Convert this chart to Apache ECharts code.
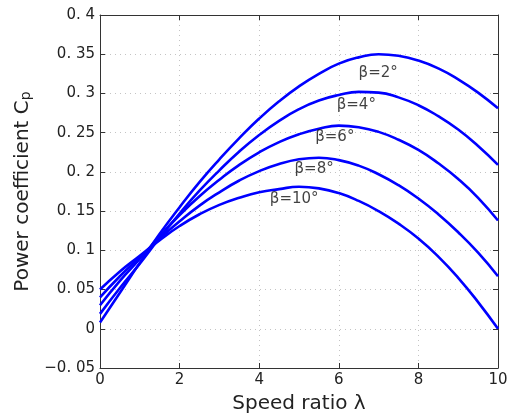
<!DOCTYPE html>
<html>
<head>
<meta charset="utf-8">
<script src="https://cdn.jsdelivr.net/npm/echarts@6/dist/echarts.min.js"></script>
<style>
html,body{margin:0;padding:0;background:#fff;}
#chart{width:515px;height:414px;}
</style>
</head>
<body>
<div id="chart"></div>
<script>
// Speed ratio samples
const lambda = [0,0.5,1,1.5,2,2.5,3,3.5,4,4.5,5,5.5,6,6.5,7,7.5,8,8.5,9,9.5,10];
// Power coefficient per pitch angle
const cpBeta2  = [0.008,0.046,0.084,0.121,0.155,0.187,0.216,0.243,0.268,0.290,0.309,0.325,0.338,0.346,0.350,0.348,0.342,0.332,0.318,0.301,0.281];
const cpBeta4  = [0.019,0.052,0.083,0.116,0.147,0.176,0.202,0.226,0.247,0.265,0.280,0.291,0.298,0.302,0.301,0.295,0.285,0.271,0.254,0.233,0.209];
const cpBeta6  = [0.030,0.061,0.089,0.118,0.145,0.169,0.190,0.209,0.225,0.238,0.248,0.255,0.259,0.257,0.251,0.241,0.228,0.211,0.191,0.167,0.138];
const cpBeta8  = [0.040,0.067,0.091,0.115,0.137,0.157,0.174,0.189,0.201,0.210,0.216,0.218,0.215,0.208,0.197,0.183,0.166,0.146,0.123,0.097,0.067];
const cpBeta10 = [0.050,0.073,0.093,0.113,0.131,0.146,0.158,0.167,0.174,0.178,0.181,0.179,0.173,0.163,0.150,0.134,0.115,0.092,0.065,0.034,0.000];
const seriesNames = ['β=2°','β=4°','β=6°','β=8°','β=10°'];
const seriesValues = [cpBeta2, cpBeta4, cpBeta6, cpBeta8, cpBeta10];
// Curve label anchor positions (data units)
const labelLambda = [6.99, 6.44, 5.90, 5.38, 4.88];
const labelCp = [0.326, 0.285, 0.2445, 0.204, 0.1655];
// Axis tick settings
const xTicks = [0,2,4,6,8,10];
const yTicks = [-0.05,0,0.05,0.1,0.15,0.2,0.25,0.3,0.35,0.4];

const FONT = 'DejaVu Sans';
const TXT = '#222222';

function fmtY(v){
  let s = (Math.round(v*100)/100).toString();
  if (s === '-0') s = '0';
  s = s.replace('.', '. ').replace('-', '\u2212');
  return s;
}

const chart = echarts.init(document.getElementById('chart'), null, {renderer:'canvas'});

const lineSeries = seriesValues.map((vals, k) => ({
  name: seriesNames[k],
  type: 'line',
  xAxisIndex: 0, yAxisIndex: 0,
  data: lambda.map((x, i) => [x, vals[i]]),
  smooth: 0.5,
  showSymbol: false,
  symbol: 'none',
  lineStyle: {color: '#0000ff', width: 2.6},
  z: 3
}));

const labelSeries = {
  type: 'scatter',
  xAxisIndex: 0, yAxisIndex: 0,
  symbolSize: 0,
  data: seriesNames.map((n, k) => ({name: n, value: [labelLambda[k], labelCp[k]]})),
  label: {
    show: true,
    position: 'inside',
    formatter: p => p.name,
    fontFamily: FONT,
    fontSize: 15,
    color: '#111'
  },
  z: 4
};

const axisLineStyle = {show: true, onZero: false, lineStyle: {color: '#333', width: 1}};
const tickStyle = {show: true, inside: true, length: 5, lineStyle: {color: '#333'}};
const gridLine = {show: true, lineStyle: {color: '#c4c4c4', type: [1, 4], width: 1}};

chart.setOption({
  animation: false,
  backgroundColor: '#fff',
  grid: {left: 100, right: 17, top: 15, bottom: 46, containLabel: false, outerBoundsMode: 'none'},
  xAxis: [
    {
      type: 'value', min: xTicks[0], max: xTicks[xTicks.length-1], interval: 2,
      position: 'bottom',
      axisLine: axisLineStyle,
      axisTick: tickStyle,
      axisLabel: {fontFamily: FONT, fontSize: 15, color: TXT, margin: 5},
      splitLine: gridLine,
      name: 'Speed ratio λ',
      nameLocation: 'middle',
      nameGap: 26,
      nameTextStyle: {fontFamily: FONT, fontSize: 20, color: TXT}
    },
    {
      type: 'value', min: xTicks[0], max: xTicks[xTicks.length-1], interval: 2,
      position: 'top',
      axisLine: axisLineStyle,
      axisTick: tickStyle,
      axisLabel: {show: false},
      splitLine: {show: false}
    }
  ],
  yAxis: [
    {
      type: 'value', min: yTicks[0], max: yTicks[yTicks.length-1], interval: 0.05,
      position: 'left',
      axisLine: axisLineStyle,
      axisTick: tickStyle,
      axisLabel: {fontFamily: FONT, fontSize: 15, color: TXT, margin: 5, formatter: fmtY},
      splitLine: gridLine,
      name: 'Power coefficient C{sub|p}',
      nameLocation: 'middle',
      nameGap: 60,
      nameRotate: 90,
      nameTextStyle: {
        fontFamily: FONT, fontSize: 20, color: TXT,
        rich: {sub: {fontFamily: FONT, fontSize: 14, color: TXT, verticalAlign: 'bottom', padding: [8,0,0,0]}}
      }
    },
    {
      type: 'value', min: yTicks[0], max: yTicks[yTicks.length-1], interval: 0.05,
      position: 'right',
      axisLine: axisLineStyle,
      axisTick: tickStyle,
      axisLabel: {show: false},
      splitLine: {show: false}
    }
  ],
  series: lineSeries.concat([labelSeries])
});
</script>
</body>
</html>
